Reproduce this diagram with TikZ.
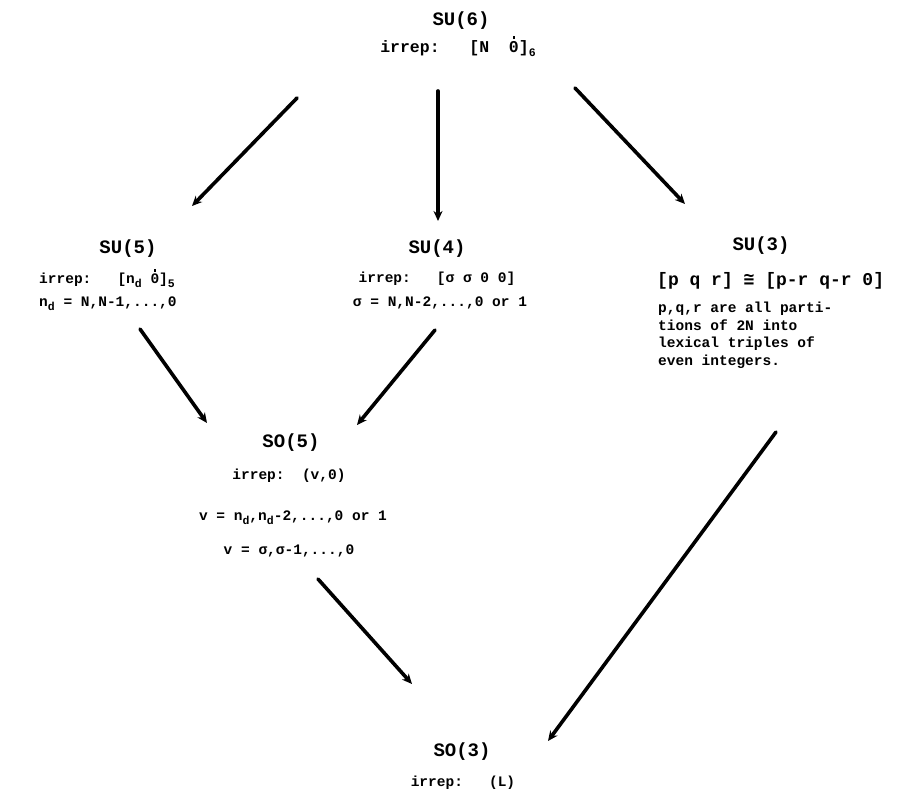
\documentclass[tikz,border=0pt]{standalone}
\usepackage{fontspec}
\setmainfont{Liberation Mono}
\newfontfamily\symfont{DejaVu Sans Mono}
\usetikzlibrary{arrows.meta}
\newcommand{\dotzero}{0\makebox[0pt][r]{\makebox[0.6em]{\raisebox{0.78em}{\rule{1.6pt}{2.8pt}}}}}
\newcommand{\lowr}[1]{\raisebox{-0.3em}{\fontsize{11.5}{11.5}\selectfont #1}}
\tikzset{
  txt/.style={anchor=base, inner sep=0pt, font=\fontsize{14.5}{17.5}\selectfont\bfseries},
  bigtxt/.style={txt, font=\fontsize{16.5}{18}\selectfont\bfseries},
  widetxt/.style={txt, font=\fontsize{18}{19}\selectfont\bfseries},
  hdr/.style={txt, font=\fontsize{19}{20}\selectfont\bfseries},
  arr/.style={line width=3.6pt, line cap=round, -{Stealth[length=10pt,width=9pt]}}
}
\begin{document}
\begin{tikzpicture}[x=1pt,y=-1pt]
\useasboundingbox[fill=white] (0,0) rectangle (909,793);
% SU(6)
\node[hdr] (su6) at (461,25) {SU(6)};
\node[bigtxt] (su6i) at (458,52) {irrep:\ \ \ [N\ \ \dotzero]\lowr{6}};
% SU(5)
\node[hdr] (su5) at (128,253) {SU(5)};
\node[txt, anchor=base west] (su5i) at (39,283) {irrep:\ \ \ [n\lowr{d}\ \dotzero]\lowr{5}};
\node[txt, anchor=base west] (su5n) at (39,306) {n\lowr{d}\ = N,N-1,...,0};
% SU(4)
\node[hdr] (su4) at (437,253) {SU(4)};
\node[txt] (su4i) at (437,282) {irrep:\ \ \ [σ σ 0 0]};
\node[txt] (su4s) at (440,306) {σ = N,N-2,...,0 or 1};
% SU(3)
\node[hdr] (su3) at (761,250) {SU(3)};
\node[widetxt, anchor=base west] (su3i) at (657,285) {[p q r] {\symfont ≅} [p-r q-r 0]};
\node[txt, anchor=north west, align=left] (su3t) at (658,302) {p,q,r are all parti-\\tions of 2N into\\lexical triples of\\even integers.};
% SO(5)
\node[hdr] (so5) at (291,447) {SO(5)};
\node[txt] (so5i) at (289,479) {irrep:\ \ (v,0)};
\node[txt] (so5v1) at (293,520) {v = n\lowr{d},n\lowr{d}-2,...,0 or 1};
\node[txt] (so5v2) at (289,554) {v = σ,σ-1,...,0};
% SO(3)
\node[hdr] (so3) at (462,756) {SO(3)};
\node[txt] (so3i) at (463,786) {irrep:\ \ \ (L)};
% arrow end points
\coordinate (a1s) at (297,98);  \coordinate (a1e) at (192,206);
\coordinate (a2s) at (438,91);  \coordinate (a2e) at (438,221);
\coordinate (a3s) at (575,88);  \coordinate (a3e) at (685,204);
\coordinate (a4s) at (140,329); \coordinate (a4e) at (207,423);
\coordinate (a5s) at (435,330); \coordinate (a5e) at (357,425);
\coordinate (a6s) at (776,432); \coordinate (a6e) at (548,741);
\coordinate (a7s) at (318,579); \coordinate (a7e) at (412,684);
\draw[arr] (a1s) -- (a1e);
\draw[arr] (a2s) -- (a2e);
\draw[arr] (a3s) -- (a3e);
\draw[arr] (a4s) -- (a4e);
\draw[arr] (a5s) -- (a5e);
\draw[arr] (a6s) -- (a6e);
\draw[arr] (a7s) -- (a7e);
\end{tikzpicture}
\end{document}
